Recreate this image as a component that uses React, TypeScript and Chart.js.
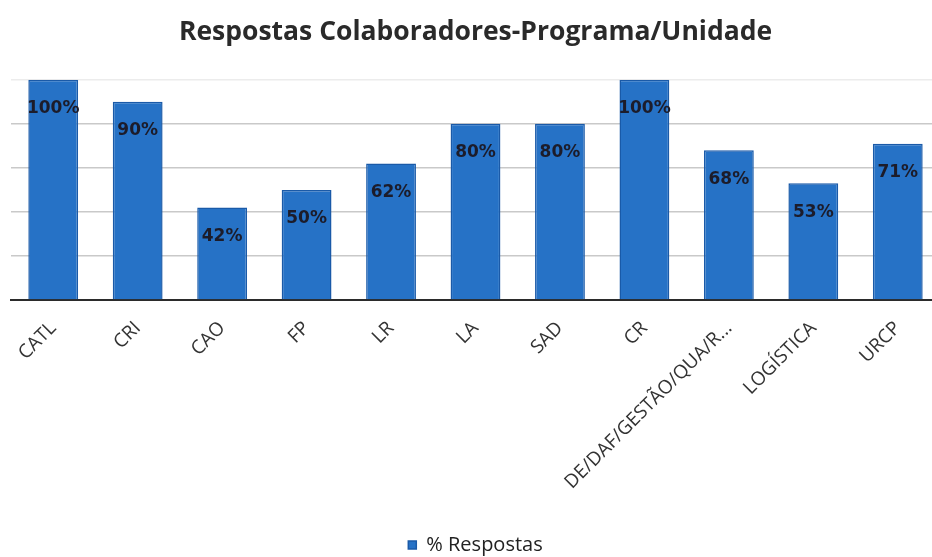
import React, { useEffect, useRef } from "react";
import { Chart, registerables } from "chart.js";

Chart.register(...registerables);

const categories = [
  "CATL",
  "CRI",
  "CAO",
  "FP",
  "LR",
  "LA",
  "SAD",
  "CR",
  "DE/DAF/GESTÃO/QUA/R...",
  "LOGÍSTICA",
  "URCP",
];
const respostas = [100, 90, 42, 50, 62, 80, 80, 100, 68, 53, 71];
const yTicks = [0, 20, 40, 60, 80, 100];

const valueLabels = {
  id: "valueLabels",
  afterDatasetsDraw(chart: any) {
    const ctx = chart.ctx;
    const meta = chart.getDatasetMeta(0);
    ctx.save();
    ctx.font = "bold 17px 'DejaVu Sans'";
    ctx.fillStyle = "#1c1c2a";
    ctx.textAlign = "center";
    ctx.textBaseline = "middle";
    meta.data.forEach((bar: any, i: number) => {
      const v = chart.data.datasets[0].data[i];
      ctx.fillText(v + "%", bar.x, bar.y + 29);
    });
    ctx.restore();
  },
};

export default function App() {
  const ref = useRef<HTMLCanvasElement>(null);
  useEffect(() => {
    document.body.style.margin = "0";
    const chart = new Chart(ref.current!, {
      type: "bar",
      data: {
        labels: categories,
        datasets: [
          {
            label: "% Respostas",
            data: respostas,
            backgroundColor: "#2672c6",
            borderColor: "#1a5aa8",
            borderWidth: 1.5,
            categoryPercentage: 1,
            barPercentage: 0.59,
          },
        ],
      },
      options: {
        animation: false,
        responsive: false,
        layout: { padding: { left: 11, right: 6, top: 0, bottom: 0 } },
        plugins: {
          title: {
            display: true,
            text: "Respostas Colaboradores-Programa/Unidade",
            font: { family: "Open Sans", size: 26.5, weight: "bold" },
            color: "#2a2a2a",
            padding: { top: 17, bottom: 31 },
          },
          legend: {
            display: true,
            position: "bottom",
            labels: {
              font: { family: "Open Sans", size: 20 },
              color: "#222",
              boxWidth: 8,
              boxHeight: 8,
              padding: 3,
            },
          },
          tooltip: { enabled: false },
        },
        scales: {
          x: {
            grid: { display: false },
            border: { display: true, color: "#2b2b2b", width: 2 },
            ticks: {
              minRotation: 45,
              maxRotation: 45,
              autoSkip: false,
              font: { family: "Open Sans", size: 19 },
              color: "#333",
              padding: 9,
            },
            afterFit(scale: any) {
              scale.height = 232;
            },
          },
          y: {
            min: 0,
            max: 100,
            afterBuildTicks(scale: any) {
              scale.ticks = yTicks.map((v) => ({ value: v }));
            },
            ticks: { display: false },
            border: { display: false },
            grid: {
              color: (c: any) => (c.tick && c.tick.value === 100 ? "#ececec" : "#c9c9c9"),
              lineWidth: 1.5,
              drawTicks: false,
            },
          },
        },
      },
      plugins: [valueLabels],
    });
    return () => chart.destroy();
  }, []);
  return (
    <div style={{ width: 932, height: 557, overflow: "hidden" }}>
      <canvas ref={ref} width={946} height={565} style={{ display: "block" }} />
    </div>
  );
}
